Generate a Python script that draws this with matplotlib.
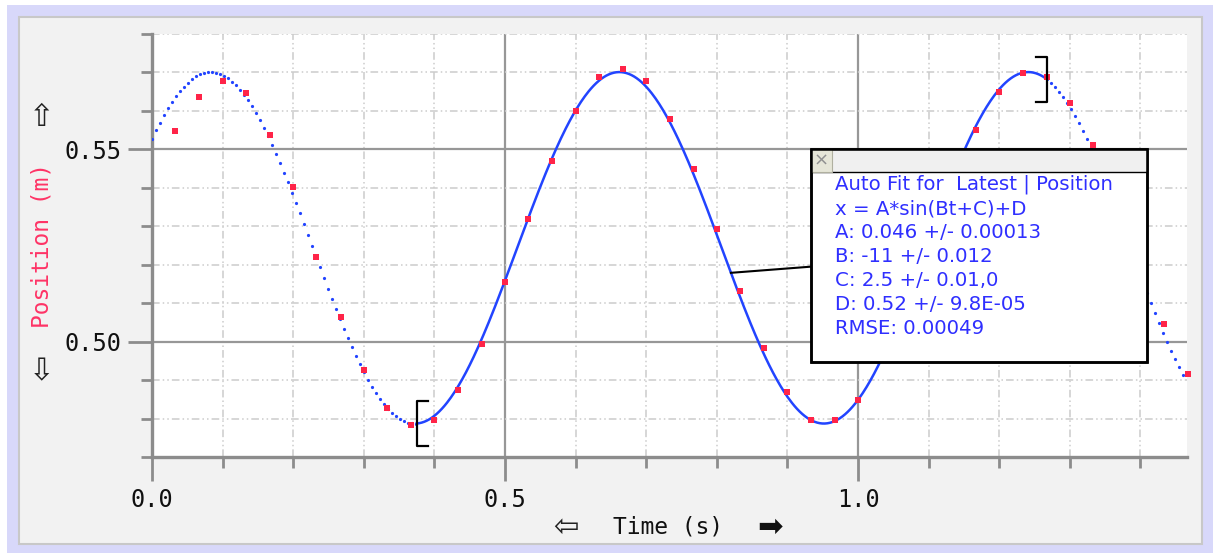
import numpy as np
import matplotlib
matplotlib.use('Agg')
import matplotlib.pyplot as plt
from matplotlib.patches import Rectangle

time = [0.033, 0.067, 0.100, 0.133, 0.167, 0.200, 0.233, 0.267, 0.300, 0.333,
        0.367, 0.400, 0.433, 0.467, 0.500, 0.533, 0.567, 0.600, 0.633, 0.667,
        0.700, 0.733, 0.767, 0.800, 0.833, 0.867, 0.900, 0.933, 0.967, 1.000,
        1.033, 1.067, 1.100, 1.133, 1.167, 1.200, 1.233, 1.267, 1.300, 1.333,
        1.367, 1.400, 1.433, 1.467]
position = [0.5548, 0.5637, 0.5678, 0.5647, 0.5538, 0.5403, 0.5221, 0.5065, 0.4925, 0.4827,
            0.4784, 0.4795, 0.4875, 0.4993, 0.5155, 0.5320, 0.5470, 0.5601, 0.5689, 0.5709,
            0.5678, 0.5579, 0.5450, 0.5294, 0.5132, 0.4983, 0.4869, 0.4795, 0.4795, 0.4849,
            0.4965, 0.5100, 0.5262, 0.5423, 0.5550, 0.5648, 0.5698, 0.5687, 0.5621, 0.5512,
            0.5338, 0.5174, 0.5045, 0.4916]

# sine fit x = A*sin(Bt+C)+D as drawn on the graph
fit_A, fit_B, fit_C, fit_D = 0.0457, -10.85, 2.471, 0.5244
fit_start, fit_end = 0.375, 1.268

box_lines = ["Auto Fit for  Latest | Position",
             "x = A*sin(Bt+C)+D",
             "A: 0.046 +/- 0.00013",
             "B: -11 +/- 0.012",
             "C: 2.5 +/- 0.01,0",
             "D: 0.52 +/- 9.8E-05",
             "RMSE: 0.00049"]

W, H = 1213, 553


def model(t):
    return fit_A * np.sin(fit_B * t + fit_C) + fit_D


def fx(px):
    return px / W


def fy(py):
    return (H - py) / H


fig = plt.figure(figsize=(W / 100, H / 100), dpi=100)
fig.patch.set_facecolor('white')
fig.add_artist(Rectangle((fx(7), 0), fx(W - 7), fy(5), transform=fig.transFigure,
                         facecolor='#d8d8fa', edgecolor='none', zorder=-3))
fig.add_artist(Rectangle((fx(19), fy(544)), fx(1202 - 19), (544 - 17) / H, transform=fig.transFigure,
                         facecolor='#f2f2f2', edgecolor='#c8c8c8', lw=1.5, zorder=-2))

ax = fig.add_axes([fx(152), fy(457), fx(1187 - 152), (457 - 34) / H])
ax.set_facecolor('white')
xmax = 1.466
ax.set_xlim(0, xmax)
ax.set_ylim(0.47, 0.58)

ax.set_xticks([0.0, 0.5, 1.0])
ax.set_xticklabels(['0.0', '0.5', '1.0'])
ax.set_xticks(np.arange(0, 1.45, 0.1), minor=True)
ax.set_yticks([0.50, 0.55])
ax.set_yticklabels(['0.50', '0.55'])
ax.set_yticks(np.arange(0.47, 0.5805, 0.01), minor=True)

ax.grid(which='major', color='#979797', lw=1.6, ls='-', zorder=0)
ax.grid(which='minor', color='#cccccc', lw=1.1, ls=(0, (5, 2, 1, 2, 1, 2)), zorder=0)
ax.set_axisbelow(True)

for s in ['top', 'right']:
    ax.spines[s].set_visible(False)
for s in ['left', 'bottom']:
    ax.spines[s].set_color('#8c8c8c')
    ax.spines[s].set_linewidth(2.4)

mono = 'DejaVu Sans Mono'
ax.tick_params(which='major', length=17, width=2, color='#8c8c8c', labelsize=17, pad=5,
               labelcolor='#111111')
ax.tick_params(which='minor', length=8, width=2, color='#8c8c8c')
for lab in ax.get_xticklabels() + ax.get_yticklabels():
    lab.set_family(mono)

# fit curve: dotted outside the fitted range, solid inside
step = 4 / 706
t_left = np.arange(0, fit_start, step)
t_right = np.arange(fit_end, xmax, step)
ax.plot(t_left, model(t_left), ls='none', marker='o', ms=2.3, mew=0, color='#2244ff', zorder=3)
ax.plot(t_right, model(t_right), ls='none', marker='o', ms=2.3, mew=0, color='#2244ff', zorder=3)
t_fit = np.linspace(fit_start, fit_end, 500)
ax.plot(t_fit, model(t_fit), color='#2244ff', lw=1.8, zorder=3)

ax.plot(time, position, ls='none', marker='s', ms=3.8, mew=0, color='#ff2448', zorder=4,
        clip_on=False)

# range brackets
bw, bh = 0.016, 0.0058
yl = model(fit_start)
ax.plot([fit_start + bw, fit_start, fit_start, fit_start + bw],
        [yl + bh, yl + bh, yl - bh, yl - bh], color='black', lw=1.6, zorder=5)
yr = model(fit_end)
ax.plot([fit_end - bw, fit_end, fit_end, fit_end - bw],
        [yr + bh, yr + bh, yr - bh, yr - bh], color='black', lw=1.6, zorder=5)

# fit info box
bx0, bx1 = (811 - 152) / 1035, (1147 - 152) / 1035
by0, by1 = (457 - 362) / 423, (457 - 149) / 423
tb = 23 / 423
ax.add_patch(Rectangle((bx0, by0), bx1 - bx0, by1 - by0, transform=ax.transAxes,
                       facecolor='white', edgecolor='black', lw=1.8, zorder=10, clip_on=False))
ax.add_patch(Rectangle((bx0, by1 - tb), bx1 - bx0, tb, transform=ax.transAxes,
                       facecolor='#f0f0f0', edgecolor='black', lw=1.0, zorder=11, clip_on=False))
ax.add_patch(Rectangle((bx0, by1 - tb), 21 / 1035, tb, transform=ax.transAxes,
                       facecolor='#e6e6d8', edgecolor='#b0b0a0', lw=0.8, zorder=12, clip_on=False))
ax.text(bx0 + 10.5 / 1035, by1 - tb / 2, '\u00d7', transform=ax.transAxes, ha='center', va='center',
        fontsize=13, color='#909090', zorder=13)
ax.add_patch(Rectangle((bx0, by0), bx1 - bx0, by1 - by0, transform=ax.transAxes,
                       facecolor='none', edgecolor='black', lw=1.8, zorder=12, clip_on=False))
line_y = [184, 209, 233, 257, 281, 305, 329]
for txt, py in zip(box_lines, line_y):
    ax.text((835 - 152) / 1035, (457 - py) / 423, txt, transform=ax.transAxes, ha='left',
            va='center', fontsize=14.2, color='#2f2fff', zorder=13)

# leader line from curve to box
t_lead = 0.820
ax.plot([t_lead, bx0 * xmax], [model(t_lead), 0.5195], color='black', lw=1.5, zorder=9)

# axis labels with arrows
fig.text(fx(42), fy(245), 'Position (m)', rotation=90, ha='center', va='center',
         family=mono, fontsize=16.5, color='#ff3366')
fig.text(fx(42), fy(117), '\u21e7', ha='center', va='center', fontsize=22, color='#222222')
fig.text(fx(42), fy(372), '\u21e9', ha='center', va='center', fontsize=22, color='#222222')
fig.text(fx(668), fy(527), 'Time (s)', ha='center', va='center', family=mono, fontsize=16.5,
         color='#111111')
fig.text(fx(566), fy(527), '\u21e6', ha='center', va='center', fontsize=22, color='#222222')
fig.text(fx(770), fy(527), '\u27a1', ha='center', va='center', fontsize=22, color='#111111')

fig.savefig('out.png', dpi=100)
